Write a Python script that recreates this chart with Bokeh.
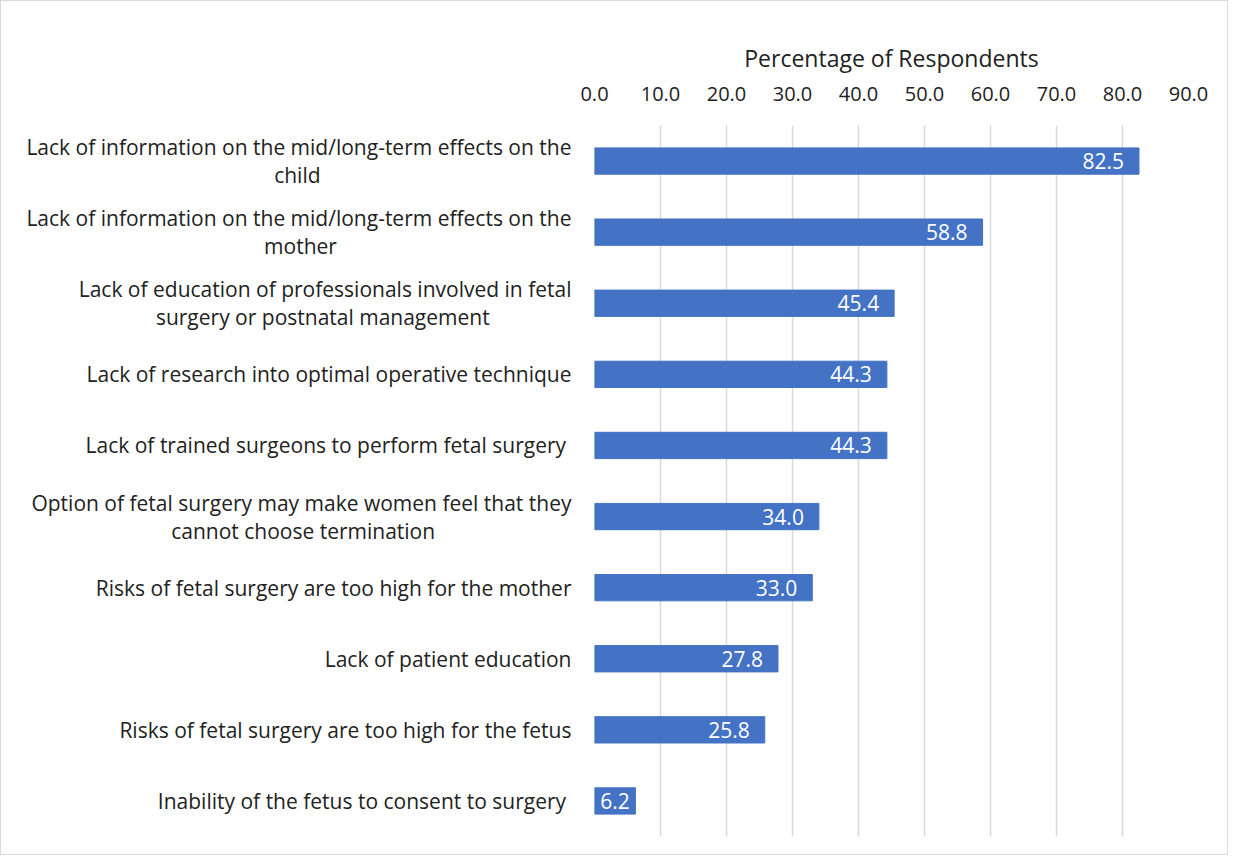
import glob
import subprocess
from bokeh.plotting import figure
from bokeh.models import Range1d, FactorRange, FixedTicker, PrintfTickFormatter, LabelSet, ColumnDataSource
from bokeh.core.properties import value
from bokeh.embed import file_html
from bokeh.resources import INLINE

# ---- data ----
categories = [
    "Lack of information on the mid/long-term effects on the\nchild",
    "Lack of information on the mid/long-term effects on the\nmother",
    "Lack of education of professionals involved in fetal\nsurgery or postnatal management",
    "Lack of research into optimal operative technique",
    "Lack of trained surgeons to perform fetal surgery ",
    "Option of fetal surgery may make women feel that they\ncannot choose termination",
    "Risks of fetal surgery are too high for the mother",
    "Lack of patient education",
    "Risks of fetal surgery are too high for the fetus",
    "Inability of the fetus to consent to surgery ",
]
values = [82.5, 58.8, 45.4, 44.3, 44.3, 34.0, 33.0, 27.8, 25.8, 6.2]
x_ticks = [0, 10, 20, 30, 40, 50, 60, 70, 80, 90]
axis_title = "Percentage of Respondents"

FONT = "Open Sans"
CAT_SIZE = 21
LBL_SIZE = 21
BAR = "#4472C4"
TXT = "#222222"

W, H = 1228, 855
LEFT, RIGHT = 593, 41
FRAME_W = W - LEFT - RIGHT


# ---- text measuring (to centre the lines of wrapped labels) ----
def _font_path():
    try:
        out = subprocess.run(["fc-match", "-f", "%{file}", FONT],
                             capture_output=True, text=True, timeout=5).stdout.strip()
        if out and "OpenSans" in out.replace(" ", ""):
            return out
    except Exception:
        pass
    cands = [f for f in glob.glob("/usr/share/fonts/**/*", recursive=True)
             if "opensans" in f.lower().replace("-", "").replace("_", "")
             and f.lower().endswith((".ttf", ".otf"))]
    regular = [f for f in cands if "regular" in f.lower() or "[" in f]
    return (regular or cands or [None])[0]


def make_measure(size):
    try:
        from PIL import ImageFont
        path = _font_path()
        font = ImageFont.truetype(path, size)
        return lambda s: font.getlength(s)
    except Exception:
        return lambda s: len(s) * 0.47 * size


measure = make_measure(CAT_SIZE)
measure_lbl = make_measure(LBL_SIZE)
space_w = measure("a a") - measure("aa") or 0.26 * CAT_SIZE


def centre_lines(label):
    lines = label.split("\n")
    if len(lines) == 1:
        return label
    widths = [measure(l) for l in lines]
    wmax = max(widths)
    out = []
    for l, w in zip(lines, widths):
        pad = int(round((wmax - w) / 2 / space_w))
        out.append(l + "\u00a0" * pad)
    return "\n".join(out)


display = [centre_lines(c) for c in categories]
lbls = [f"{v:.1f}" for v in values]

# inside-end label offset: 15px padding, less when the bar is short
px_per_unit = FRAME_W / (x_ticks[-1] - x_ticks[0])
offsets = [-min(15.0, max(2.0, (v * px_per_unit - measure_lbl(t)) / 2))
           for v, t in zip(values, lbls)]

src = ColumnDataSource(dict(cat=display, v=values, lbl=lbls, off=offsets))

p = figure(width=W, height=H, output_backend="svg", toolbar_location=None,
           x_range=Range1d(x_ticks[0], x_ticks[-1]),
           y_range=FactorRange(factors=list(reversed(display))),
           x_axis_location="above",
           min_border_left=LEFT, min_border_right=RIGHT,
           min_border_top=124, min_border_bottom=20)
p.styles = {"border": "1px solid #d9d9d9"}
p.outline_line_color = None
p.background_fill_color = "white"
p.border_fill_color = "white"

p.hbar(y="cat", left=0, right="v", height=0.37, source=src,
       fill_color=BAR, line_color=BAR)

# y axis (category labels)
ya = p.yaxis[0]
ya.axis_line_color = None
ya.major_tick_line_color = None
ya.minor_tick_line_color = None
ya.major_tick_out = 0
ya.major_label_standoff = 23
ya.major_label_text_font = FONT
ya.major_label_text_font_size = f"{CAT_SIZE}px"
ya.major_label_text_color = TXT
ya.major_label_text_line_height = 1.0
p.ygrid.grid_line_color = None

# x axis on top
xa = p.xaxis[0]
xa.ticker = FixedTicker(ticks=x_ticks)
xa.formatter = PrintfTickFormatter(format="%.1f")
xa.axis_line_color = None
xa.major_tick_line_color = None
xa.minor_tick_line_color = None
xa.major_tick_out = 0
xa.major_label_standoff = 25
xa.major_label_text_font = FONT
xa.major_label_text_font_size = "20px"
xa.major_label_text_color = TXT
xa.axis_label = axis_title
xa.axis_label_text_font = FONT
xa.axis_label_text_font_size = "23px"
xa.axis_label_text_font_style = "normal"
xa.axis_label_text_color = TXT
xa.axis_label_standoff = 10
p.xgrid.ticker = FixedTicker(ticks=x_ticks)
p.xgrid.grid_line_color = "#d9d9d9"
p.xgrid.grid_line_width = 1.5

# data labels
p.add_layout(LabelSet(x="v", y="cat", text="lbl", source=src, x_offset="off",
                      text_align="right", text_baseline="middle",
                      text_color="white", text_font=value(FONT),
                      text_font_size=f"{LBL_SIZE}px"))

open("out.html", "w").write(file_html(p, INLINE))
